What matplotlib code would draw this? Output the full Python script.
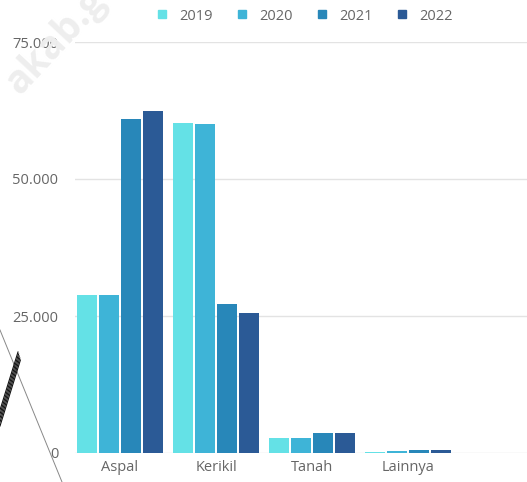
import matplotlib
matplotlib.use("Agg")
import matplotlib.pyplot as plt
import numpy as np
from matplotlib.ticker import FuncFormatter
from matplotlib.lines import Line2D

categories = ["Aspal", "Kerikil", "Tanah", "Lainnya"]
years = ["2019", "2020", "2021", "2022"]
v2019 = [28900, 60200, 2700, 200]
v2020 = [28900, 60100, 2700, 300]
v2021 = [60900, 27100, 3600, 600]
v2022 = [62500, 25500, 3600, 600]
colors = ["#64E1E6", "#3EB4D7", "#2887B9", "#2B5A96"]
yticks = [0, 25000, 50000, 75000]

series = [v2019, v2020, v2021, v2022]

fig = plt.figure(figsize=(5.27, 4.82), dpi=100)
plt.rcParams['font.family'] = ['Open Sans', 'DejaVu Sans']
ax = fig.add_axes([75/527, 1-453/482, 1-75/527, (453-42)/482])

x = np.arange(len(categories))
w = 0.229
for i, (vals, c) in enumerate(zip(series, colors)):
    ax.bar(x + (i - 1.5) * w, vals, width=w - 0.015, color=c, label=years[i], zorder=3)

ax.set_ylim(0, 75000)
ax.set_xlim(-0.469, 4.24)
ax.set_yticks(yticks)
ax.yaxis.set_major_formatter(FuncFormatter(lambda v, p: f"{int(v):,}".replace(",", ".")))
ax.grid(axis='y', color='#e3e3e3', linewidth=1, zorder=0)
ax.set_xticks(x)
ax.set_xticklabels(categories)
for s in ax.spines.values():
    s.set_visible(False)
ax.tick_params(axis='both', length=0, colors='#666666')
ax.tick_params(axis='y', pad=12, labelsize=10.5)
ax.tick_params(axis='x', pad=5, labelsize=10.5)

handles = [Line2D([0], [0], marker='s', linestyle='none', markersize=6, color=c) for c in colors]
fig.legend(handles, years, loc='center', bbox_to_anchor=(300/527, 1-16/482), ncol=4,
           frameon=False, handletextpad=0.2, columnspacing=1.0, fontsize=10.5,
           labelcolor='#666666')

# watermark & artefacts
fig.text(-0.004, 0.789, "akab.go.id", rotation=47, fontsize=28, fontweight='bold',
         color='#eeeeee', zorder=0, ha='left', va='bottom')
fig.add_artist(Line2D([0/527, 62/527], [1-330/482, 0], color='#888888', lw=0.7))
for dx in [0, 2, 4, 6, 8]:
    fig.add_artist(Line2D([(18+dx*0.3)/527, (0)/527], [1-(352+dx)/482, 1-(410+dx*2)/482],
                          color='#111111', lw=0.8))

fig.savefig("out.png", dpi=100)
